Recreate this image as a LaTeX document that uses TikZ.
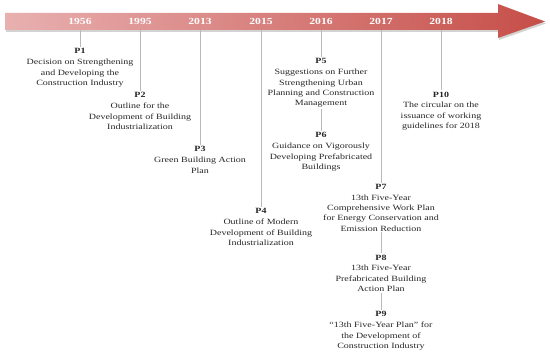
\documentclass[tikz,border=0pt]{standalone}
\usepackage{fontspec}
\setmainfont[FakeStretch=1.25]{Liberation Serif}
\usepackage{xcolor}
\usetikzlibrary{shadows}

\definecolor{barleft}{RGB}{232,176,176}
\definecolor{barright}{RGB}{198,78,72}
\definecolor{tickgray}{RGB}{185,185,185}

\tikzset{
  year/.style={text=white,font=\bfseries\fontsize{9.3}{10}\selectfont,minimum height=17pt,inner sep=0pt},
  policy/.style={anchor=north,align=center,inner sep=1pt,text=black!85,font=\fontsize{8}{10.3}\selectfont},
  tick/.style={tickgray,line width=0.9pt}
}

\begin{document}
\begin{tikzpicture}[x=1pt,y=-1pt]
\useasboundingbox (0,0) rectangle (550,355);
% timeline arrow
\draw[draw=none,left color=barleft,right color=barright,drop shadow={shadow xshift=1pt,shadow yshift=-2pt,opacity=0.35}]
 (5,13) -- (498,13) -- (498,4) -- (545,21.5) -- (498,38) -- (498,30) -- (5,30) -- cycle;
\foreach \x/\yr in {80/1956,140/1995,200/2013,261/2015,321/2016,381/2017,441/2018}{
\node[year] (y\yr) at (\x,21.5) {\yr};
}
% policies
\node[policy] (p1) at (80,47.5) {\textbf{P1}\\[0.5pt]Decision on Strengthening\\and Developing the\\Construction Industry};
\node[policy] (p2) at (140,91.5) {\textbf{P2}\\[0.5pt]Outline for the\\Development of Building\\Industrialization};
\node[policy] (p3) at (200,145.5) {\textbf{P3}\\[0.5pt]Green Building Action\\Plan};
\node[policy] (p4) at (261,207.5) {\textbf{P4}\\[0.5pt]Outline of Modern\\Development of Building\\Industrialization};
\node[policy] (p5) at (321,57.5) {\textbf{P5}\\[0.5pt]Suggestions on Further\\Strengthening Urban\\Planning and Construction\\Management};
\node[policy] (p6) at (321,131.5) {\textbf{P6}\\[0.5pt]Guidance on Vigorously\\Developing Prefabricated\\Buildings};
\node[policy] (p7) at (381,183) {\textbf{P7}\\[0.5pt]13th Five-Year\\Comprehensive Work Plan\\for Energy Conservation and\\Emission Reduction};
\node[policy] (p8) at (381,253.5) {\textbf{P8}\\[0.5pt]13th Five-Year\\Prefabricated Building\\Action Plan};
\node[policy] (p9) at (381,310.5) {\textbf{P9}\\[0.5pt]``13th Five-Year Plan'' for\\the Development of\\Construction Industry};
\node[policy] (p10) at (441,90.5) {\textbf{P10}\\[0.5pt]The circular on the\\issuance of working\\guidelines for 2018};
% connectors
\draw[tick] (y1956.south) -- (p1.north);
\draw[tick] (y1995.south) -- (p2.north);
\draw[tick] (y2013.south) -- (p3.north);
\draw[tick] (y2015.south) -- (p4.north);
\draw[tick] (y2016.south) -- (p5.north);
\draw[tick] (p5.south) -- (p6.north);
\draw[tick] (y2017.south) -- (p7.north);
\draw[tick] (p7.south) -- (p8.north);
\draw[tick] (p8.south) -- (p9.north);
\draw[tick] (y2018.south) -- (p10.north);
\end{tikzpicture}
\end{document}
